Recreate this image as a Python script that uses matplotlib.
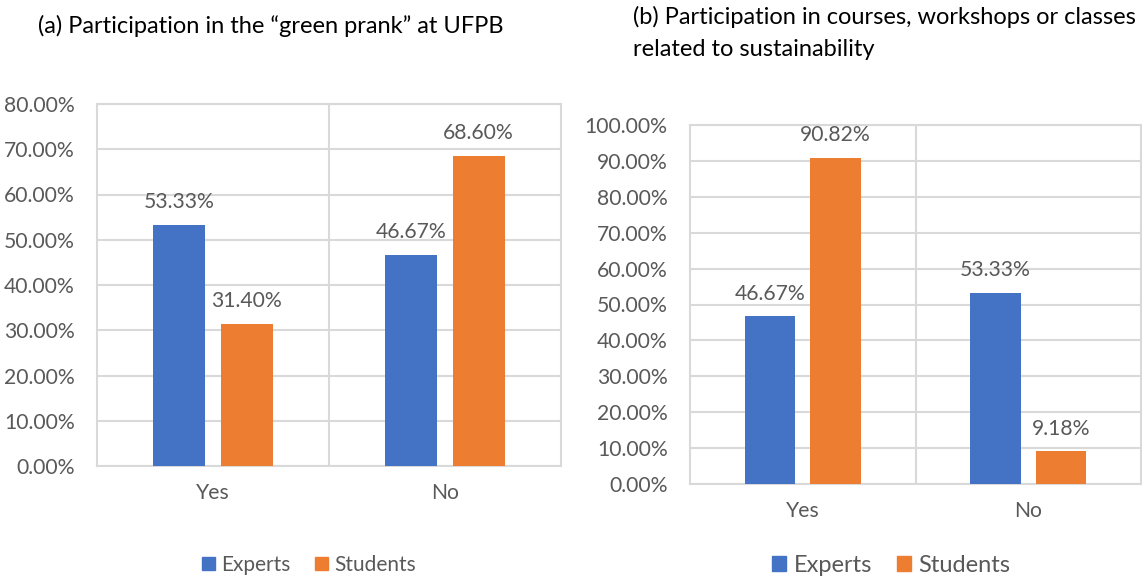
import numpy as np
import matplotlib.pyplot as plt
from matplotlib.patches import Patch

plt.rcParams['font.family'] = ['Lato', 'DejaVu Sans']

# data
categories = ['Yes', 'No']
green_prank_experts = [53.33, 46.67]
green_prank_students = [31.40, 68.60]
courses_experts = [46.67, 53.33]
courses_students = [90.82, 9.18]

BLUE = '#4472C4'
ORANGE = '#ED7D31'
GRID = '#d9d9d9'
TXT = '#595959'

W, H = 1142, 576
fig = plt.figure(figsize=(W / 100, H / 100), dpi=100)


def px_axes(x0, x1, ytop, ybot):
    return fig.add_axes([x0 / W, (H - ybot) / H, (x1 - x0) / W, (ybot - ytop) / H])


def draw_panel(ax, experts, students, ymax, fs_tick):
    x = np.arange(len(categories))
    bw = 0.224
    off = 0.145
    b1 = ax.bar(x - off, experts, bw, color=BLUE, zorder=3)
    b2 = ax.bar(x + off, students, bw, color=ORANGE, zorder=3)
    for bars, vals in ((b1, experts), (b2, students)):
        for r, v in zip(bars, vals):
            ax.annotate(f'{v:.2f}%', (r.get_x() + r.get_width() / 2, v),
                        xytext=(0, 9), textcoords='offset points',
                        ha='center', va='bottom', fontsize=fs_tick, color=TXT)
    ax.set_xlim(-0.5, len(categories) - 0.5)
    ax.set_ylim(0, ymax)
    ticks = np.arange(0, ymax + 0.1, 10)
    ax.set_yticks(ticks)
    ax.set_yticklabels([f'{t:.2f}%' for t in ticks])
    ax.set_xticks(x)
    ax.set_xticklabels(categories)
    ax.tick_params(length=0, labelsize=fs_tick, labelcolor=TXT)
    ax.tick_params(axis='x', pad=12)
    ax.tick_params(axis='y', pad=16)
    ax.yaxis.grid(True, color=GRID, lw=1.5, zorder=0)
    for xv in np.arange(0.5, len(categories) - 0.5):
        ax.axvline(xv, color=GRID, lw=1.5, zorder=0)
    for s in ax.spines.values():
        s.set_color(GRID)
        s.set_linewidth(1.5)


ax1 = px_axes(97, 561, 104, 466)
draw_panel(ax1, green_prank_experts, green_prank_students, 80, 15.2)

ax2 = px_axes(690, 1141, 125, 484)
draw_panel(ax2, courses_experts, courses_students, 100, 15.2)

fig.text(38 / W, 1 - 26 / H, '(a) Participation in the \u201cgreen prank\u201d at UFPB',
         fontsize=17, color='black', va='center', ha='left')
fig.text(633 / W, 1 - 17 / H, '(b) Participation in courses, workshops or classes',
         fontsize=17, color='black', va='center', ha='left')
fig.text(633 / W, 1 - 50 / H, 'related to sustainability',
         fontsize=17, color='black', va='center', ha='left')

handles = [Patch(color=BLUE, label='Experts'), Patch(color=ORANGE, label='Students')]
fig.legend(handles=handles, loc='center', bbox_to_anchor=(309 / W, 1 - 565 / H),
           ncol=2, frameon=False, fontsize=15, labelcolor=TXT,
           handlelength=0.6, handleheight=0.6, handletextpad=0.3, columnspacing=1.2)
fig.legend(handles=handles, loc='center', bbox_to_anchor=(891 / W, 1 - 565 / H),
           ncol=2, frameon=False, fontsize=17, labelcolor=TXT,
           handlelength=0.6, handleheight=0.6, handletextpad=0.3, columnspacing=1.05)

fig.savefig('out.png', dpi=100)
